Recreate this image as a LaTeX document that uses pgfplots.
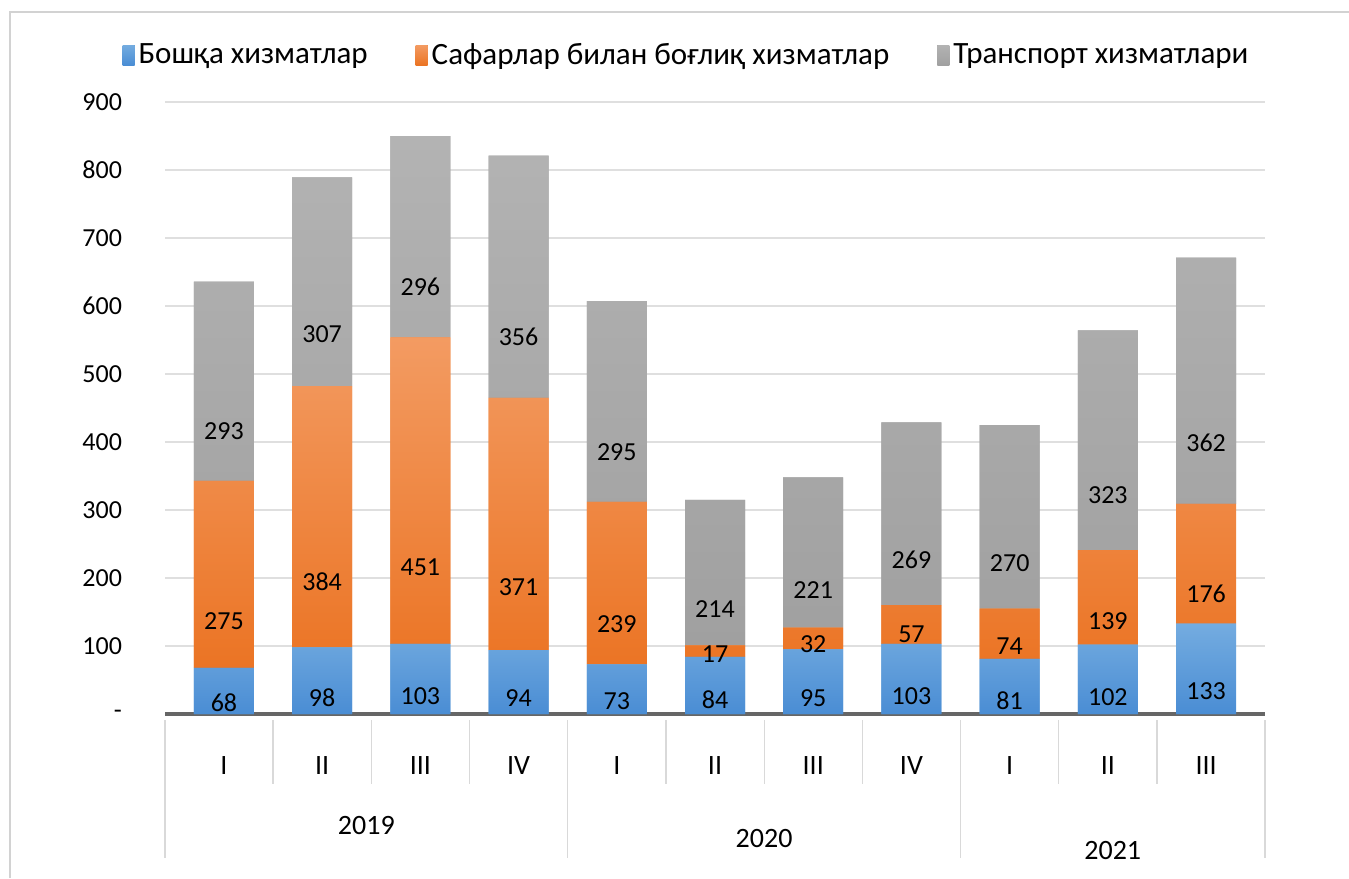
\documentclass[border=0pt]{standalone}
\usepackage{fontspec}
\setmainfont{Carlito}
\usepackage{pgfplots}
\pgfplotsset{compat=1.18}
\definecolor{cblue}{HTML}{5B9BD5}
\definecolor{cbluetop}{HTML}{74ACE0}
\definecolor{cbluebot}{HTML}{4A8DD4}
\definecolor{corange}{HTML}{ED7D31}
\definecolor{corangetop}{HTML}{F39B62}
\definecolor{corangebot}{HTML}{EB7424}
\definecolor{cgray}{HTML}{A5A5A5}
\definecolor{cgraytop}{HTML}{B3B3B3}
\definecolor{cgraybot}{HTML}{A0A0A0}
\begin{document}
\begin{tikzpicture}
\useasboundingbox (0,0) rectangle (674.5pt,-439pt);
\draw[gray!35, line width=0.6pt] (5pt,-439pt) -- (5pt,-6pt) -- (674.5pt,-6pt);
\begin{axis}[
  at={(82.5pt,-357pt)}, anchor=south west,
  scale only axis, width=550pt, height=306pt,
  ybar stacked, bar width=30pt,
  xmin=-0.6, xmax=10.6, ymin=0, ymax=900,
  xtick={0,...,10}, xticklabels={I,II,III,IV,I,II,III,IV,I,II,III},
  ytick={0,100,...,900}, yticklabels={-,100,200,300,400,500,600,700,800,900},
  axis line style={draw=none}, tick style={draw=none},
  ymajorgrids, grid style={gray!25, line width=0.6pt},
  clip=false,
  /pgf/number format/assume math mode=true,
  xticklabel style={anchor=center, yshift=-26pt, font=\fontsize{14}{16}\selectfont},
  yticklabel style={anchor=east, xshift=-18pt, font=\fontsize{13}{15}\selectfont},
  legend style={at={(0.475,1)}, anchor=center, yshift=23.5pt, draw=none, fill=none,
    legend columns=3, font=\fontsize{15.5}{17}\selectfont,
    /tikz/every even column/.append style={column sep=22pt}},
  legend image code/.code={\fill[#1] (1pt,-5pt) rectangle (7pt,5pt);},
  visualization depends on=rawy \as \rawy,
  nodes near coords={\pgfmathprintnumber{\rawy}},
  every node near coord/.append style={anchor=center, yshift=-0.085*\rawy, font=\fontsize{13}{15}\selectfont, text=black},
]
\addplot[fill=cblue, top color=cbluetop, bottom color=cbluebot, draw=none] coordinates {(0,68) (1,98) (2,103) (3,94) (4,73) (5,84) (6,95) (7,103) (8,81) (9,102) (10,133)};
\addplot[fill=corange, top color=corangetop, bottom color=corangebot, draw=none] coordinates {(0,275) (1,384) (2,451) (3,371) (4,239) (5,17) (6,32) (7,57) (8,74) (9,139) (10,176)};
\addplot[fill=cgray, top color=cgraytop, bottom color=cgraybot, draw=none] coordinates {(0,293) (1,307) (2,296) (3,356) (4,295) (5,214) (6,221) (7,269) (8,270) (9,323) (10,362)};
\legend{Бошқа хизматлар, Сафарлар билан боғлиқ хизматлар, Транспорт хизматлари}
\draw[black!60, line width=2pt] (axis cs:-0.6,0) -- (axis cs:10.6,0);
\pgfplotsinvokeforeach{0.5,1.5,2.5,4.5,5.5,6.5,8.5,9.5}{
  \draw[gray!30, line width=0.6pt] ([yshift=-3pt]axis cs:#1,0) -- ([yshift=-35pt]axis cs:#1,0);
}
\pgfplotsinvokeforeach{-0.6,3.5,7.5,10.6}{
  \draw[gray!30, line width=0.6pt] ([yshift=-3pt]axis cs:#1,0) -- ([yshift=-72pt]axis cs:#1,0);
}
\node[font=\fontsize{14}{16}\selectfont] at (axis cs:1.45,0) [yshift=-56pt] {2019};
\node[font=\fontsize{14}{16}\selectfont] at (axis cs:5.5,0) [yshift=-62pt] {2020};
\node[font=\fontsize{14}{16}\selectfont] at (axis cs:9.05,0) [yshift=-68pt] {2021};
\end{axis}
\end{tikzpicture}
\end{document}
